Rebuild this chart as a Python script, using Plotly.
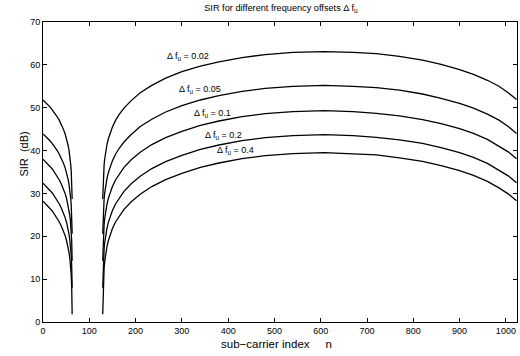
import plotly.graph_objects as go

# sub-carrier indices (left block before the interferer, right block after it)
n_left = [0, 5, 10, 15, 20, 25, 30, 35, 40, 44, 48, 51, 54, 56, 58, 59, 60, 61, 62, 63]
n_right = [129, 130, 131, 132, 133, 134, 136, 138, 141, 145, 150, 157, 165, 175, 190, 210,
           235, 265, 300, 340, 380, 430, 480, 540, 608, 670, 720, 770, 820, 860, 900, 930,
           960, 985, 1005, 1023]

offsets = ["0.02", "0.05", "0.1", "0.2", "0.4"]

sir_002_left = [51.8, 51.3, 50.8, 50.2, 49.5, 48.8, 48.0, 47.1, 46.0, 45.0, 43.8, 42.7, 41.3,
                40.2, 38.7, 37.8, 36.6, 35.1, 32.9, 28.7]
sir_002_right = [28.7, 32.9, 35.1, 36.6, 37.8, 38.7, 40.2, 41.3, 42.7, 44.1, 45.5, 47.1, 48.5,
                 49.9, 51.6, 53.5, 55.2, 56.9, 58.4, 59.7, 60.7, 61.7, 62.4, 62.9, 63.1, 62.9,
                 62.6, 62.0, 61.1, 60.1, 58.9, 57.8, 56.4, 55.0, 53.5, 51.9]

sir_005_left = [43.9, 43.4, 42.9, 42.3, 41.6, 40.9, 40.1, 39.2, 38.1, 37.1, 35.9, 34.8, 33.4,
                32.3, 30.8, 29.9, 28.7, 27.2, 24.9, 20.6]
sir_005_right = [20.6, 24.9, 27.2, 28.7, 29.9, 30.8, 32.3, 33.4, 34.8, 36.2, 37.6, 39.2, 40.6,
                 42.0, 43.7, 45.6, 47.3, 49.0, 50.5, 51.8, 52.8, 53.8, 54.5, 55.0, 55.2, 55.0,
                 54.7, 54.1, 53.2, 52.2, 51.0, 49.9, 48.5, 47.1, 45.6, 44.0]

sir_01_left = [38.0, 37.5, 36.9, 36.3, 35.7, 34.9, 34.1, 33.2, 32.1, 31.1, 29.9, 28.8, 27.4,
               26.3, 24.8, 23.9, 22.7, 21.2, 18.9, 14.3]
sir_01_right = [14.3, 18.9, 21.2, 22.7, 23.9, 24.8, 26.3, 27.4, 28.8, 30.2, 31.6, 33.2, 34.6,
                36.1, 37.8, 39.6, 41.4, 43.0, 44.5, 45.9, 46.9, 47.9, 48.6, 49.1, 49.3, 49.1,
                48.7, 48.1, 47.2, 46.3, 45.1, 44.0, 42.6, 41.1, 39.7, 38.1]

sir_02_left = [32.4, 31.9, 31.3, 30.7, 30.1, 29.3, 28.5, 27.6, 26.5, 25.5, 24.3, 23.2, 21.8,
               20.6, 19.1, 18.2, 17.0, 15.4, 13.0, 8.0]
sir_02_right = [8.0, 13.0, 15.4, 17.0, 18.2, 19.1, 20.6, 21.8, 23.2, 24.6, 26.0, 27.6, 29.0,
                30.5, 32.2, 34.0, 35.8, 37.4, 38.9, 40.3, 41.3, 42.3, 43.0, 43.5, 43.7, 43.5,
                43.1, 42.5, 41.7, 40.7, 39.5, 38.4, 37.0, 35.5, 34.1, 32.5]

sir_04_left = [28.2, 27.7, 27.1, 26.5, 25.9, 25.1, 24.3, 23.4, 22.3, 21.3, 20.1, 18.9, 17.5,
               16.3, 14.8, 13.8, 12.5, 10.8, 8.1, 1.8]
sir_04_right = [1.8, 8.1, 10.8, 12.5, 13.8, 14.8, 16.3, 17.5, 18.9, 20.4, 21.8, 23.4, 24.8,
                26.3, 28.0, 29.8, 31.6, 33.2, 34.7, 36.1, 37.1, 38.1, 38.8, 39.3, 39.5, 39.3,
                39.0, 38.3, 37.5, 36.5, 35.3, 34.2, 32.8, 31.3, 29.9, 28.3]

series = [
    (sir_002_left, sir_002_right),
    (sir_005_left, sir_005_right),
    (sir_01_left, sir_01_right),
    (sir_02_left, sir_02_right),
    (sir_04_left, sir_04_right),
]

# label anchor positions (data coords) for the in-plot labels
label_x = [263, 289, 322, 345, 371]
label_y = [62.0, 54.3, 48.7, 43.6, 40.1]

x_ticks = [0, 100, 200, 300, 400, 500, 600, 700, 800, 900, 1000]
y_ticks = [0, 10, 20, 30, 40, 50, 60, 70]

FONT = "Liberation Sans, Arial, Helvetica, sans-serif"

fig = go.Figure()
for (yl, yr), off in zip(series, offsets):
    fig.add_trace(go.Scatter(
        x=n_left + [None] + n_right,
        y=yl + [None] + yr,
        mode="lines",
        line=dict(color="black", width=1.3),
        connectgaps=False,
        showlegend=False,
        name=off,
    ))

annotations = []
for off, lx, ly in zip(offsets, label_x, label_y):
    annotations.append(dict(
        x=lx, y=ly, xref="x", yref="y",
        text=f"Δ f<sub>u</sub> = {off}",
        showarrow=False, xanchor="left", yanchor="middle",
        font=dict(family=FONT, size=9, color="black"),
    ))

# axis titles
annotations.append(dict(
    x=0.4916, y=-0.0733, xref="paper", yref="paper",
    text="sub−carrier index     n", showarrow=False,
    xanchor="center", yanchor="middle",
    font=dict(family=FONT, size=11.5, color="black"),
))
annotations.append(dict(
    x=-0.0411, y=0.56, xref="paper", yref="paper",
    text="SIR  (dB)", showarrow=False, textangle=-90,
    xanchor="center", yanchor="middle",
    font=dict(family=FONT, size=11, color="black"),
))

axis_common = dict(
    showline=True, linecolor="black", linewidth=1, mirror="ticks",
    ticks="inside", ticklen=4, tickcolor="black", tickwidth=1,
    showgrid=False, zeroline=False,
    tickfont=dict(family=FONT, size=9, color="black"),
)

fig.update_layout(
    width=520, height=356,
    margin=dict(l=43, r=3, t=22, b=34),
    paper_bgcolor="white", plot_bgcolor="white",
    title=dict(
        text="SIR for different frequency offsets Δ f<sub>u</sub>",
        x=0.502, xref="paper", xanchor="center",
        y=0.978, yref="container", yanchor="middle",
        font=dict(family=FONT, size=9.2, color="black"),
    ),
    xaxis=dict(range=[0, 1024], tickvals=x_ticks, **axis_common),
    yaxis=dict(range=[0, 70], tickvals=y_ticks, **axis_common),
    annotations=annotations,
)

fig.write_html("out.html", config={"displayModeBar": False},
               post_script="document.body.style.margin='0px';")
